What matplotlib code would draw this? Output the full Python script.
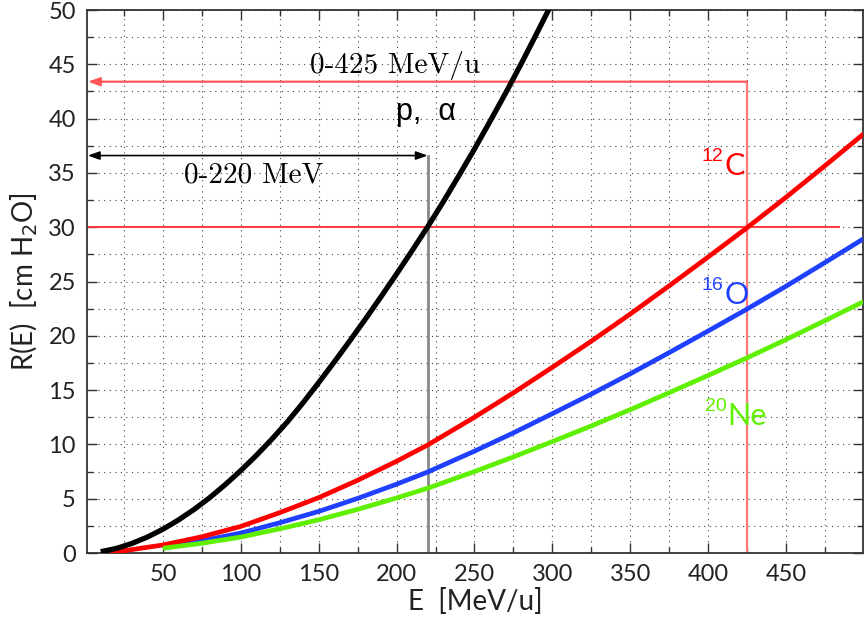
import matplotlib
matplotlib.use("Agg")
import matplotlib.pyplot as plt
from matplotlib.ticker import MultipleLocator

# ---- data ----
E_p = [10, 20, 30, 40, 50, 60, 70, 80, 90, 100, 110, 120, 130, 140, 150, 160, 170, 180,
       190, 200, 210, 220, 230, 240, 250, 260, 270, 280, 290, 300]
R_p = [0.12, 0.42, 0.88, 1.47, 2.2, 3.05, 4.02, 5.1, 6.3, 7.6, 9.0, 10.5, 12.1, 13.85, 15.7,
       17.6, 19.55, 21.55, 23.6, 25.7, 27.85, 30.05, 32.35, 34.75, 37.2, 39.75, 42.35, 45.05,
       47.85, 50.7]

E_C = [16, 25, 50, 75, 100, 125, 150, 175, 200, 220, 250, 275, 300, 325, 350, 375, 400, 425, 450, 475, 500]
R_C = [0.1, 0.21, 0.74, 1.5, 2.45, 3.72, 5.1, 6.7, 8.45, 9.95, 12.5, 14.75, 17.1, 19.5, 22.0,
       24.6, 27.25, 29.95, 32.75, 35.65, 38.6]

E_ON = [50, 75, 100, 125, 150, 175, 200, 220, 250, 275, 300, 325, 350, 375, 400, 425, 450, 475, 500]
R_O = [0.56, 1.13, 1.84, 2.79, 3.83, 5.03, 6.34, 7.46, 9.38, 11.06, 12.83, 14.63, 16.5, 18.45,
       20.44, 22.46, 24.56, 26.74, 28.95]
R_Ne = [0.44, 0.9, 1.47, 2.23, 3.06, 4.02, 5.07, 5.97, 7.5, 8.85, 10.26, 11.7, 13.2, 14.76,
        16.35, 17.97, 19.65, 21.39, 23.16]

# guide markers
E_proton_max = 220
E_ion_max = 425
R_target = 30
R_arrow_p = 36.6
R_arrow_ion = 43.4
E_hline_end = 484

xticks = [50, 100, 150, 200, 250, 300, 350, 400, 450]
yticks = [0, 5, 10, 15, 20, 25, 30, 35, 40, 45, 50]

RED = "#ff0000"
BLUE = "#2040ff"
GREEN = "#5ff000"
THIN = ["Lato", "DejaVu Sans"]

fig = plt.figure(figsize=(8.66, 6.19), dpi=100)
ax = fig.add_axes([0.1005, 0.1066, 0.8960, 0.8772])

xmin, xmax = 1.2, 499.5
ax.set_xlim(xmin, xmax)
ax.set_ylim(0, 50)

ax.xaxis.set_minor_locator(MultipleLocator(25))
ax.yaxis.set_minor_locator(MultipleLocator(2.5))
ax.set_xticks(xticks)
ax.set_xticklabels([str(v) for v in xticks], family=THIN, fontweight="normal")
ax.set_yticks(yticks)
ax.set_yticklabels([str(v) for v in yticks], family=THIN, fontweight="normal")

ax.grid(True, which="both", linestyle=(0, (1, 4)), color="#444444", linewidth=0.8)
ax.set_axisbelow(True)

ax.tick_params(which="both", direction="in", top=True, right=True, colors="#333333")
ax.tick_params(which="major", length=7, width=1.0, labelsize=17, pad=8, labelcolor="#222222")
ax.tick_params(which="minor", length=4, width=1.0)
for s in ax.spines.values():
    s.set_color("#333333")
    s.set_linewidth(1.3)

# guide lines
ax.plot([xmin, E_hline_end], [R_target, R_target], color="#ff3a3a", lw=1.4, zorder=2)
ax.plot([E_ion_max, E_ion_max], [0, R_arrow_ion], color="#ff7878", lw=1.6, zorder=2)
ax.plot([E_proton_max, E_proton_max], [0, R_arrow_p], color="#888888", lw=2.0, zorder=2)

ax.annotate("", xy=(xmin + 0.5, R_arrow_ion), xytext=(E_ion_max, R_arrow_ion),
            arrowprops=dict(arrowstyle="-|>,head_length=0.7,head_width=0.25",
                            color="#ff5555", lw=1.6, shrinkA=0, shrinkB=0), zorder=3)
ax.annotate("", xy=(xmin + 0.5, R_arrow_p), xytext=(E_proton_max, R_arrow_p),
            arrowprops=dict(arrowstyle="<|-|>,head_length=0.7,head_width=0.25",
                            color="black", lw=1.2, shrinkA=0, shrinkB=0), zorder=3)

# curves
ax.plot(E_ON, R_O, color=BLUE, lw=3.4, zorder=4, solid_capstyle="butt", solid_joinstyle="round")
ax.plot(E_C, R_C, color=RED, lw=3.4, zorder=5, solid_capstyle="butt", solid_joinstyle="round")
ax.plot(E_ON, R_Ne, color=GREEN, lw=3.4, zorder=6, solid_capstyle="butt", solid_joinstyle="round")
ax.plot(E_p, R_p, color="black", lw=3.8, zorder=7, solid_capstyle="butt", solid_joinstyle="round")

# texts
ax.text(199, 44.2, "0-425 MeV/u", family="cmr10", fontsize=21, ha="center", va="baseline")
ax.text(108, 34.1, "0-220 MeV", family="cmr10", fontsize=21, ha="center", va="baseline")
ax.text(219, 39.9, "p,  α", family="Liberation Sans", fontsize=22, ha="center", va="baseline")

def iso(x, y, mass, sym, color):
    ax.text(x, y + 1.3, mass, color=color, fontsize=14, ha="right", va="baseline", family="Liberation Sans")
    ax.text(x + 0.5, y, sym, color=color, fontsize=22, ha="left", va="baseline", family=THIN)

iso(410, 34.8, "12", "C", RED)
iso(410, 22.9, "16", "O", BLUE)
iso(412, 11.8, "20", "Ne", GREEN)

ax.set_xlabel("E  [MeV/u]", fontsize=20, color="#222222", labelpad=2, family=THIN)
ax.set_ylabel(r"R(E)  [cm H$_2$O]", fontsize=20, color="#222222", labelpad=6, family=THIN)

fig.savefig("out.png", dpi=100)
